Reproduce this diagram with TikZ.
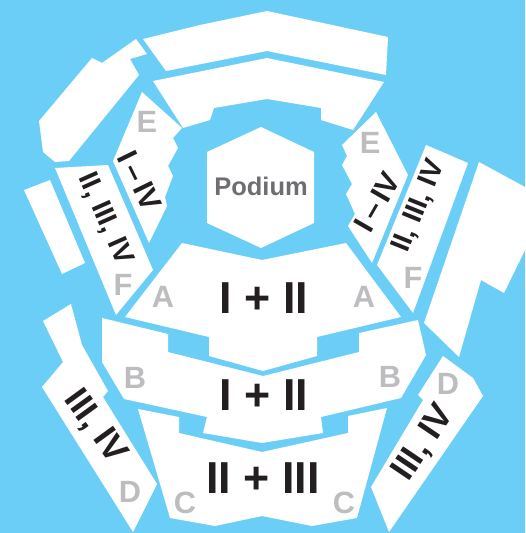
\documentclass[tikz,border=0pt]{standalone}
\usepackage{fontspec}
\setmainfont{Liberation Sans}
\definecolor{hallblue}{HTML}{6BCEF7}
\definecolor{sectgray}{HTML}{BDBDC0}
\definecolor{podgray}{HTML}{6D6E71}
\definecolor{zoneblack}{HTML}{231F20}
\tikzset{
  block/.style={fill=white},
  sect/.style={text=sectgray, font=\fontsize{17.5}{20}\selectfont\bfseries, inner sep=0pt},
  zone/.style={text=zoneblack, font=\fontsize{25.5}{30}\selectfont\bfseries, inner sep=0pt},
  side/.style={text=zoneblack, font=\fontsize{16}{20}\selectfont\bfseries, inner sep=0pt},
}
\begin{document}
\begin{tikzpicture}[x=0.02cm, y=-0.02cm]
  \useasboundingbox (0,0) rectangle (525,533);
  \fill[hallblue] (0,0) rectangle (525,533);

  % upper rows
  \fill[block] (143,39) -- (200,25) -- (267,11) -- (388,37) -- (386,75) -- (267,51) -- (166,71) -- cycle;
  \fill[block] (153,81) -- (267,58) -- (384,82) -- (353,130) -- (321,120) -- (321,108) -- (267,99)
     -- (214,108) -- (210,120) -- (183,128) -- cycle;

  % side buildings
  \fill[block] (136,39) -- (147,54) -- (130,59) -- (139,75) -- (69,161) -- (55,162) -- (43,152)
     -- (39,121) -- (92,58) -- (102,63) -- cycle;
  \fill[block] (24,190) -- (50,180) -- (85,263) -- (62,274) -- cycle;
  \fill[block] (479,162) -- (525,187) -- (525,250) -- (504,293) -- (481,280) -- (459,357) -- (424,323) -- cycle;

  % podium
  \fill[block] (261,127) -- (314,152) -- (314,223) -- (261,248) -- (207,223) -- (207,152) -- cycle;

  % wing E, left and right
  \fill[block] (142,92) -- (182,128) -- (173,138) -- (178,148) -- (168,166) -- (173,176) -- (165,197)
     -- (167,206) -- (149,243) -- (113,161) -- cycle;
  \fill[block] (376,112) -- (408,175) -- (372,263) -- (348,226) -- (355,214) -- (346,194) -- (352,184)
     -- (342,165) -- (347,156) -- (342,145) -- cycle;

  % wing F, left and right
  \fill[block] (55,168) -- (108,165) -- (153,270) -- (116,315) -- cycle;
  \fill[block] (426,145) -- (468,163) -- (413,313) -- (377,265) -- cycle;

  % block A
  \fill[block] (182,243) -- (262,260) -- (346,243) -- (401,317) -- (317,337) -- (317,356) -- (263,371)
     -- (209,356) -- (209,337) -- (125,317) -- cycle;
  % block B
  \fill[block] (102,318) -- (168,334) -- (168,352) -- (263,376) -- (359,352) -- (359,333) -- (418,320)
     -- (426,355) -- (401,398) -- (321,417) -- (323,433) -- (262,443) -- (203,433) -- (207,417)
     -- (124,399) -- (102,362) -- cycle;
  % block C
  \fill[block] (138,409) -- (179,417) -- (179,433) -- (262,452) -- (348,433) -- (348,416) -- (387,408)
     -- (357,518) -- (312,526) -- (262,516) -- (215,526) -- (170,518) -- cycle;

  % wing D, left and right
  \fill[block] (71,304) -- (43,321) -- (63,362) -- (42,387) -- (133,532) -- (157,484) -- (103,397)
     -- (108,391) -- (82,345) -- cycle;
  \fill[block] (443,356) -- (473,378) -- (483,396) -- (389,532) -- (371,487) -- (423,400) -- (418,395) -- cycle;

  % main labels
  \node[text=podgray, font=\fontsize{14.5}{18}\selectfont\bfseries, inner sep=0pt] (podium) at (261,186) {Podium};
  \node[zone] (zoneA) at (264,298.5) {I + II};
  \node[zone] (zoneB) at (264,395.5) {I + II};
  \node[zone] (zoneC) at (263,478.5) {II + III};

  % rotated labels
  \node[side, rotate=-64, font=\fontsize{17}{20}\selectfont\bfseries] (sideEL) at (140,181) {I\,–\,IV};
  \node[side, rotate=60, font=\fontsize{17}{20}\selectfont\bfseries]  (sideER) at (377,202) {I\,–\,IV};
  \node[side, rotate=-66] (sideFL) at (105,219) {II, III, IV};
  \node[side, rotate=68]  (sideFR) at (419,206) {II, III, IV};
  \node[side, rotate=-54, font=\fontsize{20}{22}\selectfont\bfseries] (sideDL) at (95,427) {III, IV};
  \node[side, rotate=56, font=\fontsize{20}{22}\selectfont\bfseries]  (sideDR) at (424,443) {III, IV};

  % section letters
  \node[sect] (sectEL) at (147,122) {E};
  \node[sect] (sectER) at (370,143) {E};
  \node[sect] (sectFL) at (123,285) {F};
  \node[sect] (sectFR) at (413,278) {F};
  \node[sect] (sectAL) at (163,297) {A};
  \node[sect] (sectAR) at (364,297) {A};
  \node[sect] (sectBL) at (135,378) {B};
  \node[sect] (sectBR) at (390,377) {B};
  \node[sect] (sectCL) at (185,503) {C};
  \node[sect] (sectCR) at (344,503) {C};
  \node[sect] (sectDL) at (130,492) {D};
  \node[sect] (sectDR) at (448,384) {D};
\end{tikzpicture}
\end{document}
